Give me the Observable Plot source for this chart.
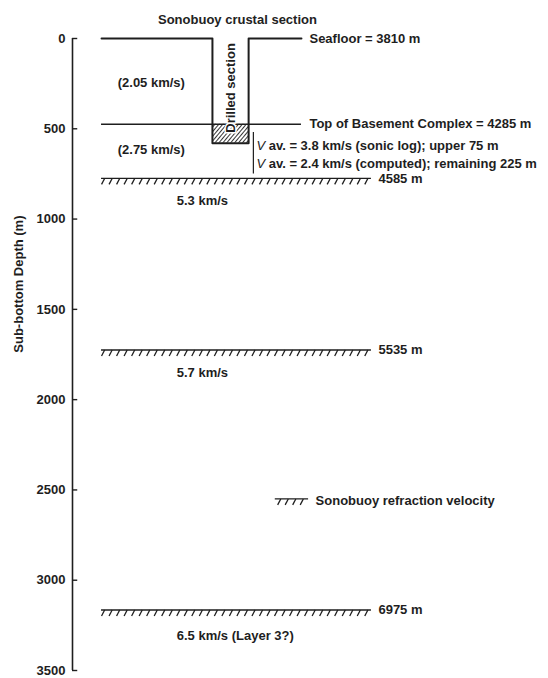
<!DOCTYPE html>
<html>
<head>
<meta charset="utf-8">
<script src="https://cdn.jsdelivr.net/npm/d3@7"></script>
<script src="https://cdn.jsdelivr.net/npm/@observablehq/plot@0.6"></script>
<style>
  body { margin: 0; background: #fff; font-family: "Liberation Sans", Arial, sans-serif; }
  #title { position: relative; height: 28px; }
  #title span { position: absolute; left: 158px; top: 12px; font: bold 13px/15px "Liberation Sans", Arial, sans-serif; color: #222; white-space: nowrap; }
</style>
</head>
<body>
<div id="title"><span>Sonobuoy crustal section</span></div>
<div id="chart"></div>
<script>
// ---- data (depths in metres) ----
const seafloorDepth = 3810;                 // water depth at site
const basementDepth = 4285;                 // top of basement complex
const drilledBottom = 580;                  // sub-bottom depth reached by the hole
const refractorDepths = [4585, 5535, 6975]; // sonobuoy refractors (below sea level)
const refractorVelocities = ["5.3 km/s", "5.7 km/s", "6.5 km/s (Layer 3?)"];
const refractorVelocityOffsets = [125, 125, 145];
const sedimentVelocities = ["(2.05 km/s)", "(2.75 km/s)"];
const sedimentLabelDepths = [247, 614];
const notes = ["V av. = 3.8 km/s (sonic log); upper 75 m", "V av. = 2.4 km/s (computed); remaining 225 m"];
const noteDepths = [595, 692];
const bracketDepths = [520, 750];
const yTicks = [0, 500, 1000, 1500, 2000, 2500, 3000, 3500];
const legendLabel = "Sonobuoy refraction velocity";
const legendDepth = 2550;
const axisLabel = "Sub-bottom Depth (m)";

// schematic horizontal positions (arbitrary units, 0–100)
const sectionLeft = 6.1, wellLeft = 29.4, wellRight = 37.0, sectionRight = 48.1;
const refractorRight = 62.8, bracketX = 38.0, velocityLabelX = 21.9, sedimentLabelX = 9.5;
const legendLeft = 43.1, legendRight = 49.6;
const hatchStep = 1.58, hatchSlant = 0.65, hatchDepth = 33;

// ---- derived tables ----
const refractors = refractorDepths.map((d, i) => ({
  sub: d - seafloorDepth, label: `${d} m`, vel: refractorVelocities[i], off: refractorVelocityOffsets[i]
}));
const hatchFor = (x0, x1, d) => {
  const out = [];
  for (let x = x0 + hatchSlant; x <= x1 + 1e-6; x += hatchStep) out.push({x1: x, y1: d, x2: x - hatchSlant, y2: d + hatchDepth});
  return out;
};
const hatches = refractors.flatMap(r => hatchFor(sectionLeft, refractorRight, r.sub))
  .concat(hatchFor(legendLeft, legendRight, legendDepth));
const wellPath = [
  {x: sectionLeft, y: 0}, {x: wellLeft, y: 0}, {x: wellLeft, y: drilledBottom},
  {x: wellRight, y: drilledBottom}, {x: wellRight, y: 0}, {x: sectionRight, y: 0}
];
const basementSub = basementDepth - seafloorDepth;

const ink = "#1e1e1e";
const font = {fontSize: 13, fontWeight: "bold", fill: ink};

const svg = Plot.plot({
  width: 548, height: 650,
  marginTop: 10, marginBottom: 8, marginLeft: 72, marginRight: 0,
  style: {fontFamily: "Liberation Sans, Arial, sans-serif", overflow: "visible", background: "#fff"},
  x: {domain: [0, 100], axis: null},
  y: {domain: [0, 3500], reverse: true, axis: null},
  marks: [
    // axis
    Plot.ruleX([0], {y1: 0, y2: 3500, stroke: ink, strokeWidth: 1.6}),
    Plot.ruleY(yTicks, {x1: 0, x2: 1.1, stroke: ink, strokeWidth: 1.4}),
    Plot.axisY({ticks: yTicks, tickFormat: d => String(d), tickSize: 0, tickPadding: 7, label: null, fontSize: 13, fontWeight: "bold", fill: ink}),
    Plot.text([axisLabel], {frameAnchor: "left", y: () => 1740, dx: -54, rotate: -90, ...font}),
    // drilled hatch
    Plot.rect([0], {x1: () => wellLeft, x2: () => wellRight, y1: () => basementSub, y2: () => drilledBottom, fill: "url(#drillHatch)"}),
    // seafloor and well
    Plot.line(wellPath, {x: "x", y: "y", stroke: ink, strokeWidth: 2}),
    Plot.ruleY([basementSub], {x1: sectionLeft, x2: sectionRight, stroke: ink, strokeWidth: 1.3}),
    Plot.text(["Drilled section"], {x: () => (wellLeft + wellRight) / 2, y: () => 274, rotate: -90, stroke: "#fff", strokeWidth: 3, paintOrder: "stroke", ...font}),
    Plot.text([`Seafloor = ${seafloorDepth} m`], {x: () => sectionRight, y: () => 0, dx: 8, textAnchor: "start", ...font}),
    Plot.text([`Top of Basement Complex = ${basementDepth} m`], {x: () => sectionRight, y: () => basementSub, dx: 8, textAnchor: "start", ...font}),
    Plot.text(sedimentVelocities, {x: () => sedimentLabelX, y: (d, i) => sedimentLabelDepths[i], textAnchor: "start", ...font}),
    // bracket and notes
    Plot.ruleX([bracketX], {y1: bracketDepths[0], y2: bracketDepths[1], stroke: ink, strokeWidth: 1.2}),
    Plot.text(notes, {x: () => bracketX, y: (d, i) => noteDepths[i], dx: 3, textAnchor: "start", ...font}),
    // refractors
    Plot.ruleY(refractors, {y: "sub", x1: sectionLeft, x2: refractorRight, stroke: ink, strokeWidth: 1.3}),
    Plot.ruleY([legendDepth], {x1: legendLeft - 0.5, x2: legendRight, stroke: ink, strokeWidth: 1.3}),
    Plot.link(hatches, {x1: "x1", y1: "y1", x2: "x2", y2: "y2", stroke: ink, strokeWidth: 1.3}),
    Plot.text(refractors, {x: () => refractorRight, y: "sub", dx: 7, dy: 0, text: "label", textAnchor: "start", ...font}),
    Plot.text(refractors, {x: () => velocityLabelX, y: d => d.sub + d.off, text: "vel", textAnchor: "start", ...font}),
    Plot.text([legendLabel], {x: () => legendRight, y: () => legendDepth + 12, dx: 7, textAnchor: "start", ...font})
  ]
});

// hatch pattern for the drilled basement interval
const defs = d3.select(svg).insert("defs", ":first-child");
const pat = defs.append("pattern").attr("id", "drillHatch").attr("patternUnits", "userSpaceOnUse")
  .attr("width", 3).attr("height", 10).attr("patternTransform", "rotate(40)");
pat.append("line").attr("x1", 1.5).attr("y1", -1).attr("x2", 1.5).attr("y2", 11).attr("stroke", ink).attr("stroke-width", 0.9);

// italic V in the notes
d3.select(svg).selectAll("text").each(function() {
  const t = this.textContent;
  if (t.startsWith("V av.")) {
    const sel = d3.select(this);
    sel.text(null);
    sel.append("tspan").attr("font-style", "italic").attr("font-weight", "normal").text("V");
    sel.append("tspan").text(t.slice(1));
  }
});

document.getElementById("chart").appendChild(svg);
</script>
</body>
</html>
